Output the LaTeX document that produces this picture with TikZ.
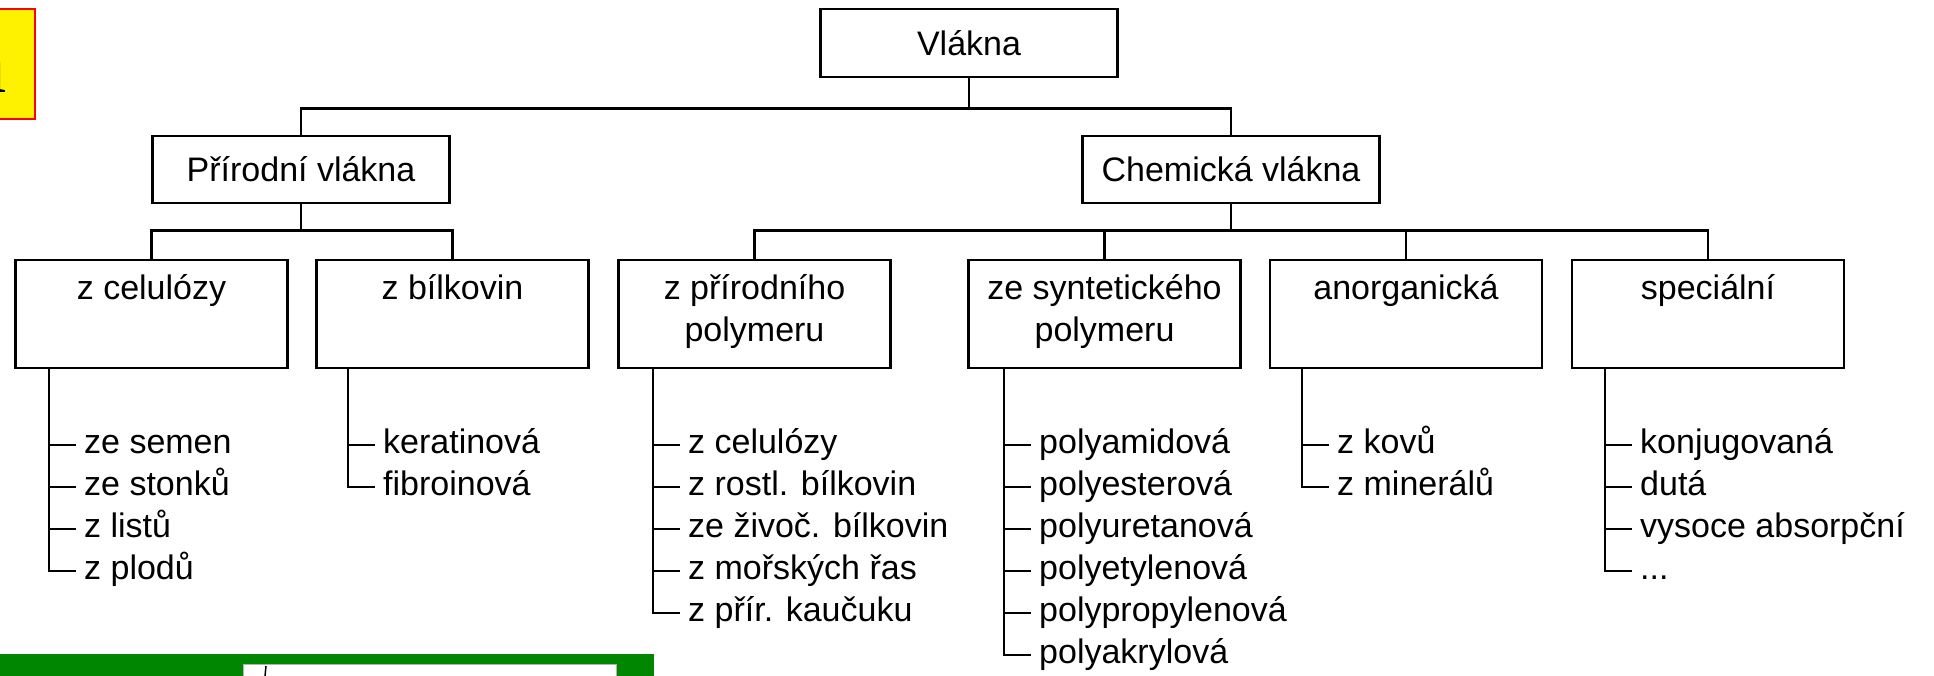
\documentclass[tikz,border=0pt]{standalone}
\usepackage{fontspec}
\setmainfont{Liberation Sans}
\newfontfamily\markfont{Liberation Serif}
\definecolor{barGreen}{RGB}{0,134,0}
\begin{document}
\fontsize{34pt}{40pt}\selectfont
\begin{tikzpicture}[x=1pt,y=-1pt,
    font=\fontsize{34pt}{40pt}\selectfont,
    box/.style={draw, line width=2.8pt, inner sep=0pt},
    topbox/.style={box, minimum width=297pt, minimum height=67pt},
    subbox/.style={box, minimum width=272pt, minimum height=108pt},
    line1/.style={anchor=mid, yshift=-32pt, inner sep=0pt},
    line2/.style={anchor=mid, yshift=-74pt, inner sep=0pt},
    item/.style={anchor=mid west, inner xsep=8pt, inner ysep=0pt},
    conn/.style={line width=2.6pt}]
  \useasboundingbox (0,0) rectangle (1934,675);

  % yellow tag, cut at the left edge
  \filldraw[fill=yellow, draw=red, line width=1.5pt] (-10,9) rectangle (35,119);
  \node[font=\markfont\fontsize{86pt}{90pt}\selectfont, anchor=base east, inner sep=0pt] (mk) at (7,92) {a};

  % green bar at the bottom
  \fill[barGreen] (0,654) rectangle (654,685);
  \filldraw[fill=white, draw=gray!60, line width=1pt] (243,664) rectangle (616,685);
  \draw[line width=1.5pt] (266,666) -- (265,676);

  % boxes
  \node[topbox, minimum height=68pt] (vla) at (969,43) {Vlákna};
  \node[topbox] (pri) at (301,169.5) {Přírodní vlákna};
  \node[topbox] (che) at (1231,169.5) {Chemická vlákna};

  \node[subbox, label={[line1]north:z celulózy}] (cel) at (151.5,314) {};
  \node[subbox, label={[line1]north:z bílkovin}] (bil) at (452.5,314) {};
  \node[subbox, label={[line1]north:z přírodního}, label={[line2]north:polymeru}] (ppo) at (754.5,314) {};
  \node[subbox, label={[line1]north:ze syntetického}, label={[line2]north:polymeru}] (spo) at (1104.5,314) {};
  \node[subbox, label={[line1]north:anorganická}] (ano) at (1406,314) {};
  \node[subbox, label={[line1]north:speciální}] (spe) at (1708,314) {};

  % tree lines
  \draw[conn] (vla.south) -- ++(0,30) -| (pri.north);
  \draw[conn] (vla.south) -- ++(0,30) -| (che.north);
  \draw[conn] (pri.south) -- ++(0,26) -| (cel.north);
  \draw[conn] (pri.south) -- ++(0,26) -| (bil.north);
  \foreach \grp in {ppo,spo,ano,spe}
    \draw[conn] (che.south) -- ++(0,26) -| (\grp.north);

  % lists
  \foreach \grp/\lx/\items in {
      cel/49/{ze semen,ze stonků,z listů,z plodů},
      bil/348/{keratinová,fibroinová},
      ppo/653/{z celulózy,z rostl. bílkovin,ze živoč. bílkovin,z mořských řas,z přír. kaučuku},
      spo/1004/{polyamidová,polyesterová,polyuretanová,polyetylenová,polypropylenová,polyakrylová},
      ano/1302/{z kovů,z minerálů},
      spe/1605/{konjugovaná,dutá,vysoce absorpční,.{}.{}.}}{
    \coordinate (\grp-l) at (\lx,368);
    \foreach \txt [count=\i] in \items {
      \node[item] (\grp\i) at ({\lx+27},{403+42*\i}) {\txt};
      \draw[conn] (\grp-l) |- (\grp\i.mid west);
    }
  }
\end{tikzpicture}
\end{document}
